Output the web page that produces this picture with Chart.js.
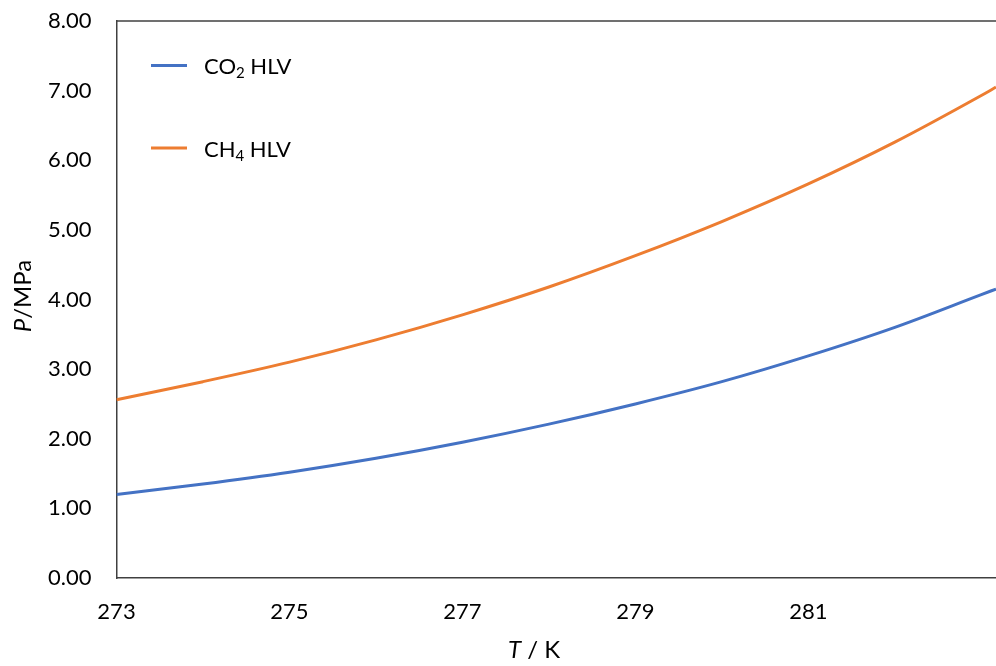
<!DOCTYPE html>
<html lang="en">
<head>
  <meta charset="UTF-8">
  <title>Hydrate equilibrium</title>
  <script src="https://cdn.jsdelivr.net/npm/chart.js"></script>
  <style>
    html, body { margin: 0; padding: 0; background: #fff; }
    #wrap { width: 996px; height: 666px; }
  </style>
</head>
<body>
  <div id="wrap"><canvas id="hlvChart" width="996" height="666"></canvas></div>

  <script>
    // temperature (K) and HLV pressures (MPa)
    var temps = [273, 274, 275, 276, 277, 278, 279, 280, 281, 282, 283, 283.17]
    var co2 = [1.20, 1.35, 1.52, 1.72, 1.95, 2.21, 2.50, 2.82, 3.19, 3.60, 4.07, 4.15]
    var ch4 = [2.56, 2.82, 3.10, 3.42, 3.78, 4.18, 4.63, 5.12, 5.66, 6.26, 6.93, 7.05]
    var xTicks = [273, 275, 277, 279, 281]
    var yTicks = [0, 1, 2, 3, 4, 5, 6, 7, 8]

    // legend text in pieces so the formula subscripts can be drawn smaller
    var co2Label = [['CO', false], ['2', true], [' HLV', false]]
    var ch4Label = [['CH', false], ['4', true], [' HLV', false]]

    var FONT = 'Lato, "Open Sans", sans-serif'
    var blue = '#4472C4'
    var orange = '#ED7D31'
    var axisCol = '#404040'

    function toPts(ys) {
      var out = []
      for (let i = 0; i < temps.length; i++) {
        out.push({x: temps[i], y: ys[i]})
      }
      return out
    }

    function drawPieces(ctx, parts, x, y, size) {
      for (let i = 0; i < parts.length; i++) {
        let txt = parts[i][0], sub = parts[i][1]
        ctx.font = (sub ? Math.round(size * 0.7) : size) + 'px ' + FONT
        ctx.fillText(txt, x, sub ? y + size * 0.28 : y)
        x += ctx.measureText(txt).width
      }
    }

    // legend in the plot, top border, axis titles
    const extras = {
      id: 'extras',
      afterDraw(chart) {
        const ctx = chart.ctx
        const area = chart.chartArea
        ctx.save()

        ctx.strokeStyle = axisCol
        ctx.lineWidth = 1.5
        ctx.beginPath()
        ctx.moveTo(area.left, area.top)
        ctx.lineTo(area.right, area.top)
        ctx.stroke()

        const items = [[co2Label, blue, 65.5], [ch4Label, orange, 148]]
        ctx.textBaseline = 'middle'
        ctx.fillStyle = '#000'
        items.forEach(function (it) {
          ctx.strokeStyle = it[1]
          ctx.lineWidth = 3
          ctx.beginPath()
          ctx.moveTo(151, it[2])
          ctx.lineTo(187, it[2])
          ctx.stroke()
          drawPieces(ctx, it[0], 204, it[2] + 1.5, 22)
        })

        // x title: italic T then " / K"
        ctx.font = 'italic 24px ' + FONT
        let w1 = ctx.measureText('T').width
        ctx.font = '24px ' + FONT
        let w2 = ctx.measureText(' / K').width
        let x0 = 534 - (w1 + w2) / 2
        ctx.textAlign = 'left'
        ctx.font = 'italic 24px ' + FONT
        ctx.fillText('T', x0, 650)
        ctx.font = '24px ' + FONT
        ctx.fillText(' / K', x0 + w1, 650)

        // y title, rotated
        ctx.translate(23, 296)
        ctx.rotate(-Math.PI / 2)
        ctx.font = 'italic 24px ' + FONT
        w1 = ctx.measureText('P').width
        ctx.font = '24px ' + FONT
        w2 = ctx.measureText('/MPa').width
        x0 = -(w1 + w2) / 2
        ctx.font = 'italic 24px ' + FONT
        ctx.fillText('P', x0, 0)
        ctx.font = '24px ' + FONT
        ctx.fillText('/MPa', x0 + w1, 0)

        ctx.restore()
      }
    }

    const config = {
      type: 'line',
      data: {
        datasets: [{
          label: 'CO2 HLV',
          data: toPts(co2),
          borderColor: blue,
          borderWidth: 3,
          pointRadius: 0,
          cubicInterpolationMode: 'monotone',
          fill: false
        }, {
          label: 'CH4 HLV',
          data: toPts(ch4),
          borderColor: orange,
          borderWidth: 3,
          pointRadius: 0,
          cubicInterpolationMode: 'monotone',
          fill: false
        }]
      },
      options: {
        responsive: false,
        animation: false,
        layout: { padding: { top: 21, right: 0, left: 0, bottom: 0 } },
        plugins: {
          legend: { display: false },
          tooltip: { enabled: false }
        },
        scales: {
          x: {
            type: 'linear',
            min: 273,
            max: 283.17,
            grid: { display: false, drawTicks: false },
            border: { display: true, color: axisCol, width: 1.5 },
            afterBuildTicks: function (scale) {
              scale.ticks = xTicks.map(function (v) { return {value: v} })
            },
            afterFit: function (scale) {
              scale.height = 88
              scale.paddingLeft = 0
              scale.paddingRight = 0
            },
            ticks: {
              padding: 21,
              color: '#000',
              font: { family: FONT, size: 22 },
              maxRotation: 0,
              callback: function (value) { return String(value) }
            }
          },
          y: {
            min: 0,
            max: 8,
            grid: { display: false, drawTicks: false },
            border: { display: true, color: axisCol, width: 1.5 },
            afterBuildTicks: function (scale) {
              scale.ticks = yTicks.map(function (v) { return {value: v} })
            },
            afterFit: function (scale) {
              scale.width = 116.5
              scale.paddingTop = 0
              scale.paddingBottom = 0
            },
            ticks: {
              padding: 25,
              color: '#000',
              font: { family: FONT, size: 22 },
              callback: function (value) { return value.toFixed(2) }
            }
          }
        }
      },
      plugins: [extras]
    };

    const hlvChart = new Chart(document.getElementById('hlvChart'), config);
  </script>
</body>
</html>
